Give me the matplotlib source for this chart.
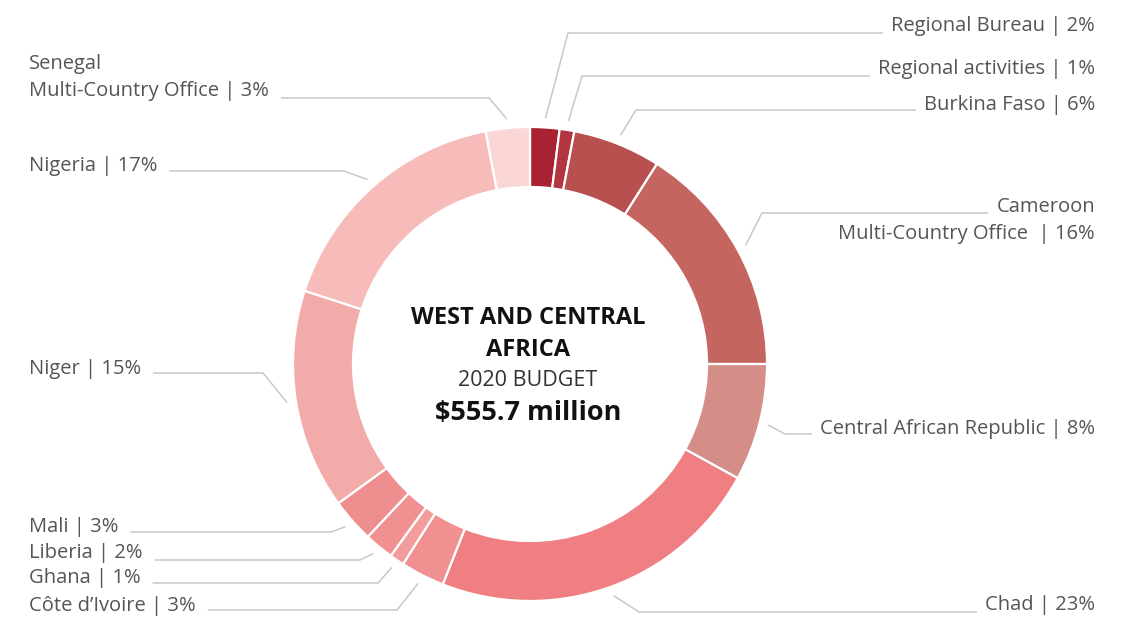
import numpy as np
import matplotlib
matplotlib.use("Agg")
import matplotlib.pyplot as plt

plt.rcParams["font.family"] = ["Open Sans", "DejaVu Sans"]

# 2020 budget shares, clockwise from 12 o'clock
offices = [
    "Regional Bureau", "Regional activities", "Burkina Faso",
    "Cameroon\nMulti-Country Office ", "Central African Republic", "Chad",
    "Côte d’Ivoire", "Ghana", "Liberia", "Mali", "Niger", "Nigeria",
    "Senegal\nMulti-Country Office",
]
shares = [2, 1, 6, 16, 8, 23, 3, 1, 2, 3, 15, 17, 3]
colors = [
    "#a82232", "#b23540", "#b95050", "#c4655f", "#d48e87", "#ef7f82",
    "#f09091", "#f29c9c", "#f09091", "#ef8e8f", "#f3abaa", "#f7bbba",
    "#fad7d6",
]
total_budget = 555.7  # USD millions

# label layout in pixels: (bend x, line y, text x, first text line y, side)
layout = [
    (568, 33, 1095, 26, "right"),
    (582, 76, 1095, 69, "right"),
    (636, 110, 1095, 105, "right"),
    (762, 213, 1095, 207, "right"),
    (785, 434, 1095, 429, "right"),
    (639, 612, 1095, 605, "right"),
    (397, 610, 29, 606, "left"),
    (378, 583, 29, 578, "left"),
    (360, 560, 29, 553, "left"),
    (331, 532, 29, 527, "left"),
    (263, 373, 29, 369, "left"),
    (344, 171, 29, 166, "left"),
    (489, 98, 29, 64, "left"),
]

W, H = 1135, 617
cx, cy, R, ring = 530, 364, 237, 60
row_gap = 27

fig = plt.figure(figsize=(W / 100, H / 100), dpi=100)
ax = fig.add_axes([0, 0, 1, 1])

ax.pie(shares, colors=colors, radius=R, center=(cx, cy),
       startangle=-90, counterclock=True,
       wedgeprops=dict(width=ring, edgecolor="white", linewidth=1.6))
ax.set_xlim(0, W)
ax.set_ylim(H, 0)
ax.set_aspect("equal")
ax.axis("off")

cum = np.cumsum([0] + shares[:-1])
line_col = "#c8c8c8"
text_col = "#555555"
renderer = fig.canvas.get_renderer()
to_data = ax.transData.inverted()

for name, pct, start, lay in zip(offices, shares, cum, layout):
    bx, ly, tx, ty, side = lay
    rows = f"{name} | {pct}%".split("\n")
    texts = []
    for i, row in enumerate(rows):
        texts.append(ax.text(tx, ty + i * row_gap, row, ha=side, va="center",
                             fontsize=14.5, color=text_col))
    # leader ends just short of the text row it sits beside
    near = min(texts, key=lambda t: abs(t.get_position()[1] - ly))
    bb = near.get_window_extent(renderer)
    x0, x1 = to_data.transform([[bb.x0, 0], [bb.x1, 0]])[:, 0]
    ex = x0 - 8 if side == "right" else x1 + 12
    mid = np.deg2rad(-90 + (start + pct / 2) * 3.6)
    sx, sy = cx + (R + 9) * np.cos(mid), cy + (R + 9) * np.sin(mid)
    ax.plot([sx, bx, ex], [sy, ly, ly], color=line_col, lw=1.1,
            solid_capstyle="butt")

# centre title
ax.text(cx - 2, 318, "WEST AND CENTRAL", ha="center", va="center",
        fontsize=17, fontweight="bold", color="#111111")
ax.text(cx - 2, 350, "AFRICA", ha="center", va="center",
        fontsize=17, fontweight="bold", color="#111111")
ax.text(cx - 2, 381, "2020 BUDGET", ha="center", va="center",
        fontsize=15.5, color="#333333")
ax.text(cx - 2, 413, f"${total_budget} million", ha="center", va="center",
        fontsize=19.5, fontweight="bold", color="#111111")

fig.savefig("out.png", dpi=100, facecolor="white")
